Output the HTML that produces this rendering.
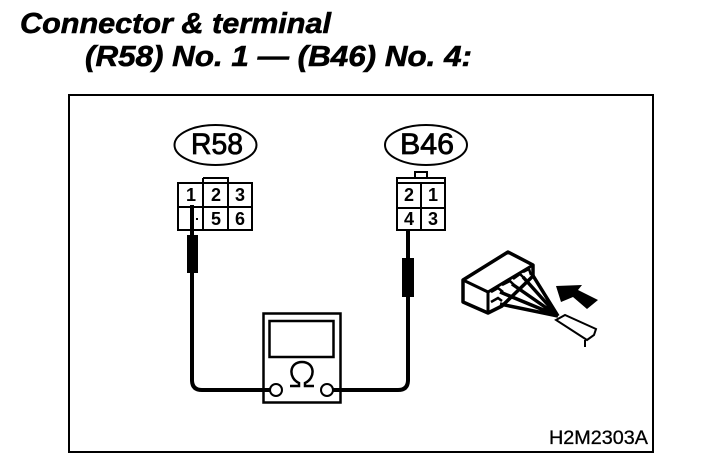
<!DOCTYPE html>
<html><head><meta charset="utf-8"><style>html,body{margin:0;padding:0;background:#fff}svg{display:block}text{font-family:"Liberation Sans",sans-serif;fill:#000}</style></head><body>
<svg width="704" height="468" viewBox="0 0 704 468" xmlns="http://www.w3.org/2000/svg">
<g font-weight="bold" font-style="italic" font-size="29" stroke="#000" stroke-width=".6">
<text x="20" y="33" textLength="311" lengthAdjust="spacingAndGlyphs">Connector &amp; terminal</text>
<text x="85" y="66" textLength="387" lengthAdjust="spacingAndGlyphs">(R58) No. 1 — (B46) No. 4:</text>
</g>
<rect x="69" y="95" width="584" height="357" fill="none" stroke="#000" stroke-width="2"/>
<text x="549" y="444" font-size="19" textLength="99" lengthAdjust="spacingAndGlyphs" stroke="#000" stroke-width=".3">H2M2303A</text>
<g fill="none" stroke="#000" stroke-width="2">
<ellipse cx="215.500" cy="145" rx="41" ry="20"/>
<ellipse cx="426" cy="145" rx="41" ry="20"/>
<path d="M178 183H252V230H178ZM203 178H228V183M203 178V230M228 178V230M178 207H252"/>
<path d="M397 183V178H445V230H397V183H445M421 183V230M397 208H445M415 178V172H427V178"/>
</g>
<g font-size="30" text-anchor="middle" stroke="#000" stroke-width=".8">
<text x="217" y="154" textLength="52" lengthAdjust="spacingAndGlyphs">R58</text><text x="427" y="154" textLength="54" lengthAdjust="spacingAndGlyphs">B46</text>
</g>
<g font-size="18" font-weight="bold" text-anchor="middle">
<text x="191" y="201">1</text><text x="216" y="201">2</text><text x="240" y="201">3</text>
<text x="216" y="225">5</text><text x="240" y="225">6</text>
<text x="409" y="201">2</text><text x="433" y="201">1</text>
<text x="409" y="225">4</text><text x="433" y="225">3</text>
</g>
<rect x="178" y="208" width="24" height="21" fill="#fff" stroke="none"/>
<path d="M178 208V230H203M178 207H184M198 207H203" fill="none" stroke="#000" stroke-width="2"/>
<path d="M203 183V230" stroke="#000" stroke-width="2"/>
<rect x="196" y="218" width="2" height="2"/>
<path d="M192 205V380Q192 390 202 390H270M408 230V380Q408 390 398 390H333" fill="none" stroke="#000" stroke-width="4"/>
<rect x="187" y="235" width="11" height="38"/>
<rect x="402" y="258" width="12" height="39"/>
<rect x="263.500" y="313.500" width="77" height="89" fill="#fff" stroke="#000" stroke-width="2.500"/>
<rect x="269.500" y="321" width="64" height="36" fill="#fff" stroke="#000" stroke-width="2.500"/>
<path d="M263 390H270M333 390H341" stroke="#000" stroke-width="4"/>
<circle cx="276" cy="390" r="6" fill="#fff" stroke="#000" stroke-width="2"/>
<circle cx="327" cy="390" r="6" fill="#fff" stroke="#000" stroke-width="2"/>
<path d="M290 386H299V383C288 378 289 362 302 362C315 362 316 378 305 383V386H314" fill="none" stroke="#000" stroke-width="2.500"/>
<!-- connector sketch -->
<path d="M463 280L508 252L533 265L533 276L502 306L488 313L463 302Z" fill="#fff" stroke="#000" stroke-width="3.500" stroke-linejoin="round"/>
<path d="M463 280L488 292L533 265M488 292V313" fill="none" stroke="#000" stroke-width="3"/>
<path d="M491 292L498 288L503 292M502 285L510 281L514 285M513 279L520 274L525 279M523 272L529 269L531 275M491 302L498 298L502 301" fill="none" stroke="#000" stroke-width="2.500"/>
<path d="M500 292L558 316M512 284L558 316M523 277L558 316M532 274L558 316M500 304L558 316" fill="none" stroke="#000" stroke-width="3.500"/>
<path d="M556 286L582 285L578 290L598 300L587 309L573 297L561 302Z"/>
<path d="M556 320L565 315L596 329L594 335L587 340ZM585 340V347" fill="#fff" stroke="#000" stroke-width="2"/>
</svg>
</body></html>
